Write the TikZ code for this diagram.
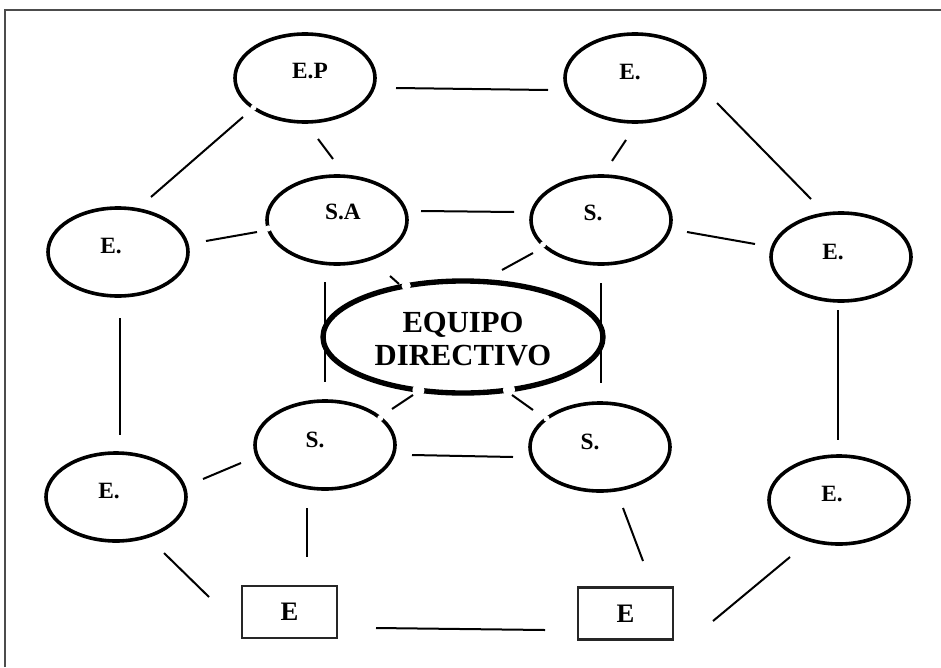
\documentclass[tikz,border=0pt]{standalone}
\usepackage{fontspec}
\setmainfont{Liberation Serif}
\usetikzlibrary{shapes.geometric}
\begin{document}
\begin{tikzpicture}[x=0.75pt,y=-0.75pt,
  ell/.style={ellipse,draw,line width=2.7pt,minimum width=105pt,minimum height=66pt,inner sep=0pt,outer sep=0pt},
  bigell/.style={ellipse,draw,line width=4pt,minimum width=210pt,minimum height=84pt,inner sep=0pt,outer sep=0pt},
  boxnode/.style={rectangle,draw=black!85,line width=1.7pt,minimum width=71pt,minimum height=39pt,inner sep=0pt,font=\bfseries\fontsize{20}{22}\selectfont},
  lblb/.style={inner sep=0pt,font=\bfseries\fontsize{17.5}{20}\selectfont},
  conn/.style={line width=1.5pt},
  gap/.style={white}
]
\useasboundingbox (0,0) rectangle (941,667);
% frame
\coordinate (f1) at (5,667);
\coordinate (f2) at (5,10);
\coordinate (f3) at (941,10);
\draw[black!70,line width=0.8pt] (f1) -- (f2) -- (f3);

% ellipses
\node[ell] (ep) at (305,78) {};
\node[ell] (et) at (635,78) {};
\node[ell] (sa) at (337,220) {};
\node[ell] (s1) at (601,220) {};
\node[ell] (el) at (118,252) {};
\node[ell] (er) at (841,257) {};
\node[bigell] (eq) at (463,337) {};
\node[ell] (s2) at (325,445) {};
\node[ell] (s3) at (600,447) {};
\node[ell] (ebl) at (116,497) {};
\node[ell] (ebr) at (839,500) {};
\node[boxnode] (b1) at (289.5,612) {E};
\node[boxnode] (b2) at (625.5,613.5) {E};

% labels
\node[lblb] (tep) at (310,71) {E.P};
\node[lblb] (tet) at (630,72) {E.};
\node[lblb] (tsa) at (343,212) {S.A};
\node[lblb] (ts1) at (593,213) {S.};
\node[lblb] (tel) at (111,246) {E.};
\node[lblb] (ter) at (833,252) {E.};
\node[lblb] (ts2) at (315,440) {S.};
\node[lblb] (ts3) at (590,442) {S.};
\node[lblb] (tebl) at (109,491) {E.};
\node[lblb] (tebr) at (832,494) {E.};
\node[inner sep=0pt,font=\bfseries\fontsize{23}{24.5}\selectfont,align=center] (teq) at (463,339) {EQUIPO\\DIRECTIVO};

% gaps in outlines
\fill[gap] (ep.210) circle (2.3pt);
\fill[gap] (sa.187) circle (2.3pt);
\fill[gap] (s1.203) circle (2.3pt);
\fill[gap] (s2.26) circle (2.3pt);
\fill[gap] (s3.152) circle (2.3pt);
\fill[gap] (eq.138) circle (3.5pt);
\fill[gap] (eq.230) circle (4.5pt);
\fill[gap] (eq.311) circle (4.5pt);

% connector end points
\coordinate (c1a) at (396,88);  \coordinate (c1b) at (548,90);
\coordinate (c2a) at (243,117); \coordinate (c2b) at (151,197);
\coordinate (c3a) at (318,139); \coordinate (c3b) at (333,159);
\coordinate (c4a) at (626,140); \coordinate (c4b) at (612,161);
\coordinate (c5a) at (717,103); \coordinate (c5b) at (811,199);
\coordinate (c6a) at (421,211); \coordinate (c6b) at (514,212);
\coordinate (c7a) at (206,241); \coordinate (c7b) at (257,232);
\coordinate (c8a) at (687,232); \coordinate (c8b) at (755,244);
\coordinate (c9a) at (533,253); \coordinate (c9b) at (502,270);
\coordinate (c10a) at (390,276); \coordinate (c10b) at (399,284);
\coordinate (c11a) at (325,282); \coordinate (c11b) at (325,382);
\coordinate (c12a) at (601,283); \coordinate (c12b) at (601,383);
\coordinate (c13a) at (413,395); \coordinate (c13b) at (392,409);
\coordinate (c14a) at (512,395); \coordinate (c14b) at (533,410);
\coordinate (c15a) at (412,455); \coordinate (c15b) at (513,457);
\coordinate (c16a) at (120,318); \coordinate (c16b) at (120,435);
\coordinate (c17a) at (838,310); \coordinate (c17b) at (838,440);
\coordinate (c18a) at (203,479); \coordinate (c18b) at (241,463);
\coordinate (c19a) at (307,508); \coordinate (c19b) at (307,557);
\coordinate (c20a) at (623,508); \coordinate (c20b) at (643,561);
\coordinate (c21a) at (164,553); \coordinate (c21b) at (209,597);
\coordinate (c22a) at (790,557); \coordinate (c22b) at (713,621);
\coordinate (c23a) at (376,628); \coordinate (c23b) at (545,630);

\foreach \i in {1,...,23} \draw[conn] (c\i a) -- (c\i b);
\end{tikzpicture}
\end{document}
